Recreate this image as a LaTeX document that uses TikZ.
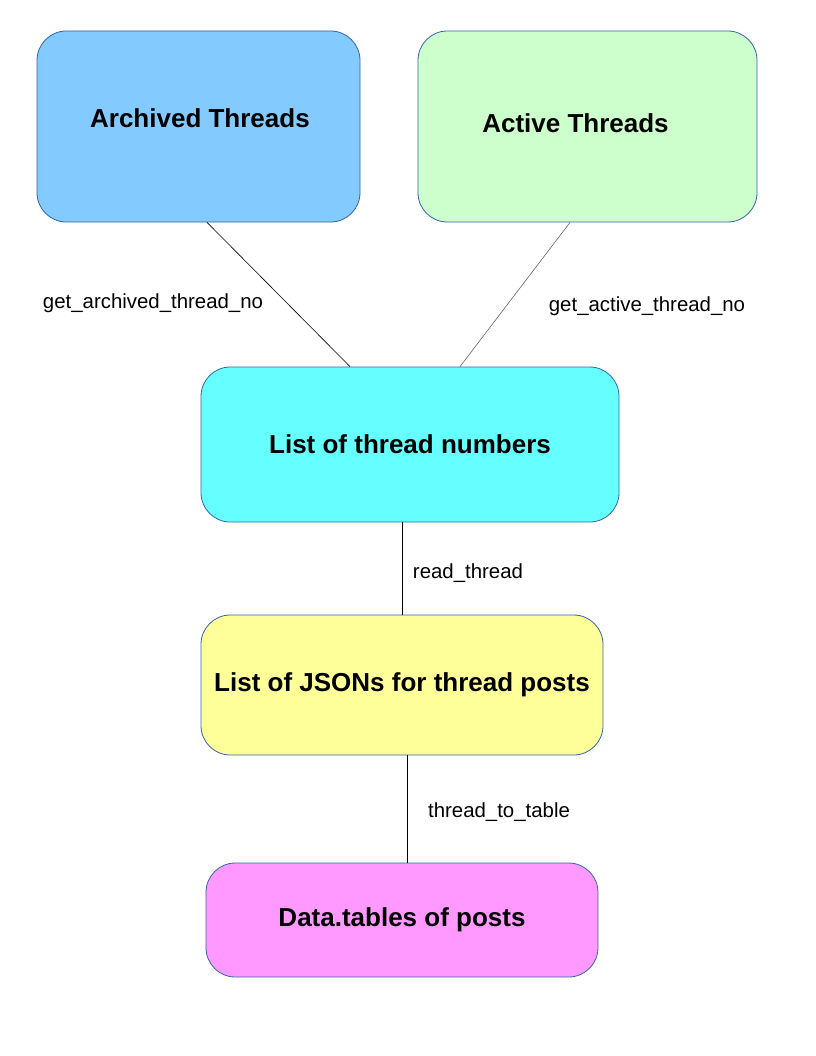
\documentclass[tikz,border=0pt]{standalone}
\usepackage{fontspec}
\setmainfont{Liberation Sans}
\definecolor{archfill}{RGB}{130,202,255}
\definecolor{actfill}{RGB}{204,255,204}
\definecolor{listfill}{RGB}{102,255,255}
\definecolor{jsonfill}{RGB}{255,255,153}
\definecolor{datafill}{RGB}{255,153,255}
\definecolor{boxline}{RGB}{52,101,164}
\tikzset{
  box/.style={draw=boxline, line width=0.6pt, rounded corners=22pt, inner sep=0pt,
    font=\fontsize{19.5}{23}\selectfont\bfseries},
  conn/.style={line width=0.45pt, draw=black},
  connlight/.style={line width=0.45pt, draw=black!60},
  lbl/.style={font=\fontsize{15.3}{18}\selectfont, inner sep=0pt}
}
\begin{document}
\begin{tikzpicture}[x=0.75pt,y=-0.75pt]
\useasboundingbox (0,0) rectangle (816,1056);
\node[box, fill=archfill, minimum width=242.25pt, minimum height=143.25pt,
  label={[font=\fontsize{19.5}{23}\selectfont\bfseries, yshift=6.4pt, xshift=1.1pt]center:Archived Threads}]
  (arch) at (198.5,126.5) {};
\node[box, fill=actfill, minimum width=254.25pt, minimum height=143.25pt,
  label={[font=\fontsize{19.5}{23}\selectfont\bfseries, yshift=2.6pt, xshift=-9pt]center:Active Threads}]
  (act) at (587.5,126.5) {};
\node[box, fill=listfill, minimum width=313.5pt, minimum height=116.25pt]
  (list) at (410,444.5) {List of thread numbers};
\node[box, fill=jsonfill, minimum width=301.5pt, minimum height=105pt]
  (json) at (402,685) {List of JSONs for thread posts};
\node[box, fill=datafill, minimum width=294pt, minimum height=85.5pt]
  (data) at (402,920) {Data.tables of posts};
\draw[conn] ([xshift=6.4pt]arch.south) -- ([xshift=-45pt]list.north);
\draw[connlight] ([xshift=-13.1pt]act.south) -- ([xshift=37.5pt]list.north);
\draw[conn] ([xshift=-6pt]list.south) -- (json.north);
\draw[conn] ([xshift=3.75pt]json.south) -- ([xshift=3.75pt]data.north);
\node[lbl] (l1) at (153,303) {get\_archived\_thread\_no};
\node[lbl] (l2) at (647,306) {get\_active\_thread\_no};
\node[lbl] (l3) at (468,573) {read\_thread};
\node[lbl] (l4) at (499,812) {thread\_to\_table};
\end{tikzpicture}
\end{document}
